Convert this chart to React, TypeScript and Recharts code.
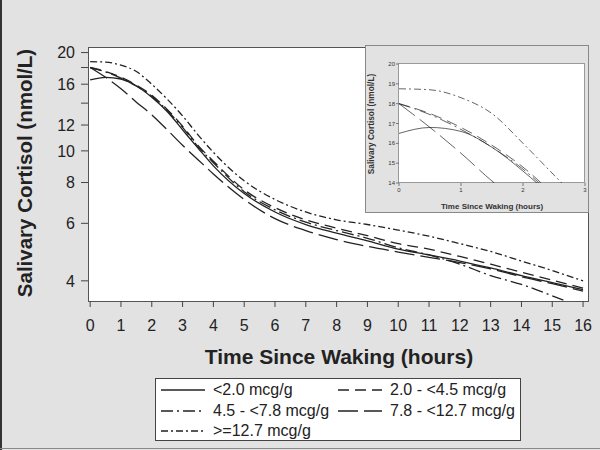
import React from "react";
import { LineChart, Line, XAxis, YAxis } from "recharts";

// hours since waking
const hours = [0, 0.5, 1, 1.5, 2, 2.5, 3, 3.5, 4, 5, 6, 7, 8, 9, 10, 11, 12, 13, 14, 15, 16];

// salivary cortisol (nmol/L) per exposure group
const lt2 = [16.5, 16.8, 16.6, 15.8, 14.6, 13.2, 11.6, 10.2, 9.0, 7.4, 6.5, 5.95, 5.6, 5.3, 5.0, 4.8, 4.6, 4.38, 4.15, 3.95, 3.76];
const from2to45 = [18.0, 17.5, 16.8, 15.9, 14.8, 13.4, 11.9, 10.4, 9.3, 7.6, 6.7, 6.15, 5.8, 5.5, 5.2, 5.0, 4.75, 4.5, 4.25, 4.02, 3.8];
const from45to78 = [18.0, 17.45, 16.7, 15.8, 14.7, 13.3, 11.8, 10.3, 9.2, 7.5, 6.6, 6.05, 5.7, 5.4, 5.05, 4.8, 4.5, 4.15, 3.9, 3.6, 3.3];
const from78to127 = [18.0, 16.8, 15.5, 14.1, 12.9, 11.6, 10.4, 9.4, 8.5, 7.1, 6.2, 5.7, 5.35, 5.1, 4.9, 4.72, 4.55, 4.35, 4.12, 3.92, 3.72];
const ge127 = [18.75, 18.7, 18.3, 17.5, 16.0, 14.4, 12.8, 11.2, 9.9, 8.1, 7.1, 6.5, 6.15, 5.95, 5.72, 5.48, 5.2, 4.92, 4.6, 4.3, 4.0];

const xTicks = [0, 1, 2, 3, 4, 5, 6, 7, 8, 9, 10, 11, 12, 13, 14, 15, 16];
const yTicks = [4, 6, 8, 10, 12, 14, 16, 18, 20];
const yLabelled = [4, 6, 8, 10, 12, 16, 20];
const insetXTicks = [0, 1, 2, 3];
const insetYTicks = [14, 15, 16, 17, 18, 19, 20];

const series = [
  { key: "lt2", name: "<2.0 mcg/g", values: lt2 },
  { key: "g2", name: "2.0 - <4.5 mcg/g", values: from2to45 },
  { key: "g45", name: "4.5 - <7.8 mcg/g", values: from45to78 },
  { key: "g78", name: "7.8 - <12.7 mcg/g", values: from78to127 },
  { key: "g127", name: ">=12.7 mcg/g", values: ge127 },
];

const dashes: Record<string, string | undefined> = {
  lt2: undefined,
  g2: "11 6",
  g45: "12 4 2 4",
  g78: "20 6",
  g127: "7 3 2 3",
};

const data = hours.map((h, i) => {
  const row: Record<string, number> = { h };
  series.forEach((s) => (row[s.key] = s.values[i]));
  return row;
});

const font = '"Liberation Sans", Arial, sans-serif';
const bg = "#e2e2e2";
const ink = "#222";

const lines = (w: number) =>
  series.map((s) => (
    <Line
      key={s.key}
      dataKey={s.key}
      name={s.name}
      type="monotone"
      stroke={ink}
      strokeWidth={w}
      strokeDasharray={dashes[s.key]}
      dot={false}
      isAnimationActive={false}
    />
  ));

const App: React.FC = () => {
  return (
    <div style={{ position: "fixed", left: 0, top: 0, width: 600, height: 450, background: bg, fontFamily: font, overflow: "hidden" }}>
      <div style={{ position: "absolute", left: 0, top: 0, width: 2, height: 450, background: "#333" }} />
      <div style={{ position: "absolute", left: 0, top: 448, width: 600, height: 1, background: "#888" }} />

      {/* main plot box */}
      <div style={{ position: "absolute", left: 88, top: 47, width: 501, height: 255, background: "#fff", border: "1px solid #555", boxSizing: "border-box" }} />

      <div style={{ position: "absolute", left: 0, top: 0 }}>
        <LineChart width={600} height={450} data={data} margin={{ top: 47, right: 12, bottom: 119, left: 28 }}>
          <XAxis
            dataKey="h"
            type="number"
            domain={[-0.07, 16.16]}
            ticks={xTicks}
            allowDataOverflow
            axisLine={false}
            tickSize={6}
            tickMargin={13}
            height={30}
            tick={{ fontSize: 16, fill: ink, fontFamily: font }}
            tickLine={{ stroke: "#444" }}
          />
          <YAxis
            type="number"
            scale="log"
            domain={[3.47, 20.8]}
            ticks={yTicks}
            allowDataOverflow
            axisLine={false}
            width={60}
            tickSize={7}
            tickMargin={6}
            tickFormatter={(v: number) => (yLabelled.includes(v) ? String(v) : "")}
            tick={{ fontSize: 16, fill: ink, fontFamily: font }}
            tickLine={{ stroke: "#444" }}
          />
          {lines(1.3)}
        </LineChart>
      </div>

      <div style={{ position: "absolute", left: 25, top: 173, transform: "translate(-50%, -50%) rotate(-90deg)", whiteSpace: "nowrap", fontWeight: "bold", fontSize: 20.5, color: ink }}>
        Salivary Cortisol (nmol/L)
      </div>
      <div style={{ position: "absolute", left: 339, top: 357, transform: "translate(-50%, -50%)", whiteSpace: "nowrap", fontWeight: "bold", fontSize: 21, color: ink }}>
        Time Since Waking (hours)
      </div>

      {/* inset */}
      <div style={{ position: "absolute", left: 365, top: 45, width: 224, height: 168, background: bg, border: "1px solid #888", boxSizing: "border-box" }}>
        <div style={{ position: "absolute", left: 32, top: 17, width: 187, height: 120, background: "#fff", border: "1px solid #999", boxSizing: "border-box" }} />
        <div style={{ position: "absolute", left: 0, top: 0 }}>
          <LineChart width={223} height={167} data={data} margin={{ top: 18, right: 4, bottom: 18, left: 13 }}>
            <XAxis
              dataKey="h"
              type="number"
              domain={[0, 3]}
              ticks={insetXTicks}
              allowDataOverflow
              axisLine={false}
              tickSize={3}
              tickMargin={2}
              height={12}
              tick={{ fontSize: 6, fill: "#333", fontFamily: font }}
              tickLine={{ stroke: "#777" }}
            />
            <YAxis
              type="number"
              domain={[14, 20]}
              ticks={insetYTicks}
              allowDataOverflow
              axisLine={false}
              width={20}
              tickSize={3}
              tickMargin={1}
              tick={{ fontSize: 6, fill: "#333", fontFamily: font }}
              tickLine={{ stroke: "#777" }}
            />
            {lines(0.7)}
          </LineChart>
        </div>
        <div style={{ position: "absolute", left: 5, top: 78, transform: "translate(-50%, -50%) rotate(-90deg)", whiteSpace: "nowrap", fontWeight: "bold", fontSize: 8.3, color: "#333" }}>
          Salivary Cortisol (nmol/L)
        </div>
        <div style={{ position: "absolute", left: 126, top: 160, transform: "translate(-50%, -50%)", whiteSpace: "nowrap", fontWeight: "bold", fontSize: 8, color: "#333" }}>
          Time Since Waking (hours)
        </div>
      </div>

      {/* legend */}
      <div style={{ position: "absolute", left: 155, top: 378, width: 366, height: 63, background: "#fff", border: "1px solid #444", boxSizing: "border-box" }}>
        {series.map((s, i) => {
          const col = i % 2;
          const row = Math.floor(i / 2);
          return (
            <div key={s.key} style={{ position: "absolute", left: 5 + col * 177, top: 1 + row * 20.5, height: 20, display: "flex", alignItems: "center", whiteSpace: "nowrap" }}>
              <svg width={44} height={20}>
                <line x1={0} x2={44} y1={10} y2={10} stroke={ink} strokeWidth={1.3} strokeDasharray={dashes[s.key]} />
              </svg>
              <span style={{ marginLeft: 8, fontSize: 16, color: ink }}>{s.name}</span>
            </div>
          );
        })}
      </div>
    </div>
  );
};

export default App;
